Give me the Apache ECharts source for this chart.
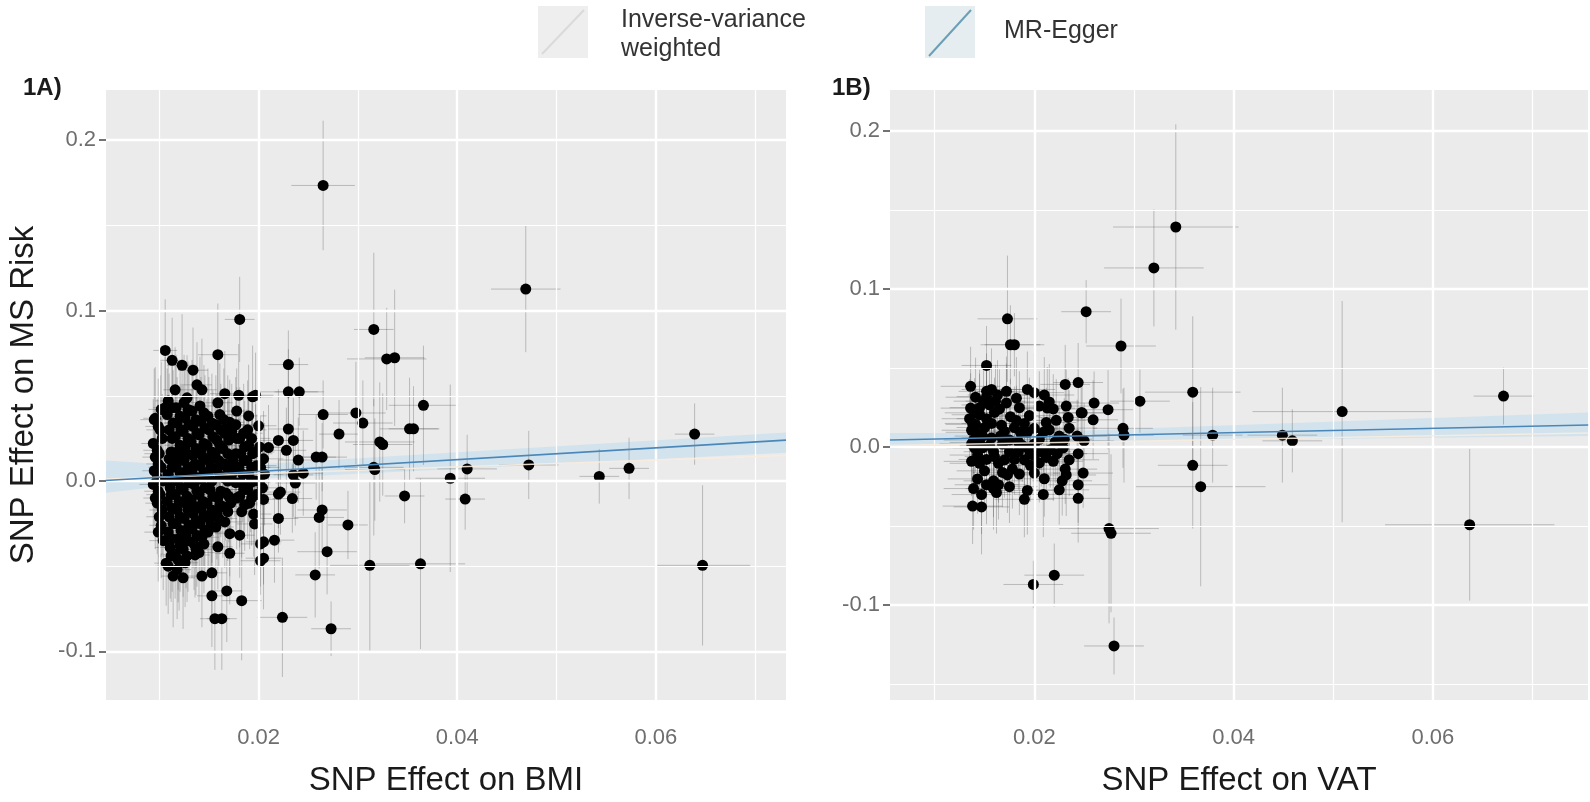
<!DOCTYPE html>
<html>
<head>
<meta charset="utf-8">
<script src="https://cdn.jsdelivr.net/npm/echarts@6/dist/echarts.min.js"></script>
<style>
html,body{margin:0;padding:0;background:#fff;}
#chart{width:1590px;height:802px;}
</style>
</head>
<body>
<div id="chart"></div>
<script>
// ---------- tick values ----------
const xMajorTicks = [0.02, 0.04, 0.06];
const xMinorTicks = [0.01, 0.03, 0.05, 0.07];
const yMajorTicks = [-0.1, 0, 0.1, 0.2];
const yMinorTicksA = [-0.05, 0.05, 0.15];
const yMinorTicksB = [-0.15, -0.05, 0.05, 0.15];

// ---------- panel 1A: SNP effect on BMI vs MS risk  [beta_x, beta_y, se_x, se_y] ----------
const snpA = [
 [0.0265,0.1734,0.0032,0.038],[0.0469,0.1126,0.0035,0.037],[0.0316,0.0889,0.0020,0.045],
 [0.0329,0.0716,0.0040,0.030],[0.0337,0.0723,0.0030,0.040],[0.0230,0.0683,0.0020,0.020],
 [0.0230,0.0523,0.0030,0.025],[0.0241,0.0523,0.0025,0.020],[0.0194,0.0494,0.0020,0.030],
 [0.0366,0.0444,0.0035,0.035],[0.0265,0.0390,0.0025,0.020],[0.0298,0.0399,0.0030,0.030],
 [0.0305,0.0340,0.0030,0.025],[0.0352,0.0306,0.0030,0.030],[0.0356,0.0306,0.0025,0.025],
 [0.0281,0.0275,0.0020,0.020],[0.0322,0.0229,0.0035,0.035],[0.0325,0.0214,0.0030,0.030],
 [0.0639,0.0275,0.0020,0.018],[0.0258,0.0140,0.0020,0.025],[0.0264,0.0140,0.0025,0.020],
 [0.0316,0.0080,0.0030,0.040],[0.0317,0.0067,0.0030,0.030],[0.0410,0.0071,0.0030,0.020],
 [0.0472,0.0094,0.0030,0.020],[0.0573,0.0074,0.0020,0.018],[0.0543,0.0027,0.0020,0.016],
 [0.0393,0.0016,0.0035,0.055],[0.0408,-0.0106,0.0020,0.018],[0.0347,-0.0088,0.0020,0.016],
 [0.0220,-0.0077,0.0020,0.020],[0.0234,-0.0103,0.0020,0.020],[0.0264,-0.0170,0.0025,0.025],
 [0.0261,-0.0214,0.0025,0.030],[0.0290,-0.0258,0.0020,0.020],[0.0220,-0.0220,0.0020,0.020],
 [0.0202,-0.0369,0.0020,0.025],[0.0216,-0.0347,0.0020,0.025],[0.0202,-0.0468,0.0020,0.020],
 [0.0269,-0.0415,0.0030,0.025],[0.0312,-0.0495,0.0040,0.050],[0.0363,-0.0486,0.0045,0.050],
 [0.0647,-0.0495,0.0048,0.047],[0.0257,-0.0551,0.0020,0.025],[0.0224,-0.0800,0.0025,0.035],
 [0.0273,-0.0867,0.0020,0.016],
 [0.0181,0.0948,0.0015,0.025],[0.0159,0.0741,0.0020,0.030],[0.0106,0.0766,0.0012,0.030],
 [0.0113,0.0708,0.0012,0.025],[0.0123,0.0679,0.0015,0.030],[0.0134,0.0650,0.0015,0.025],
 [0.0116,0.0535,0.0012,0.025],[0.0138,0.0564,0.0015,0.025],[0.0143,0.0535,0.0015,0.030],
 [0.0128,0.0488,0.0012,0.025],[0.0166,0.0512,0.0015,0.025],[0.0180,0.0503,0.0018,0.030],
 [0.0197,0.0503,0.0018,0.025],[0.0159,0.0459,0.0015,0.030],[0.0096,0.0368,0.0012,0.030],
 [0.0106,0.0430,0.0012,0.030],[0.0178,0.0410,0.0015,0.025],[0.0190,0.0382,0.0018,0.030],
 [0.0200,0.0324,0.0018,0.025],[0.0171,0.0344,0.0015,0.025],[0.0230,0.0305,0.0020,0.025],
 [0.0220,0.0238,0.0020,0.030],[0.0235,0.0238,0.0020,0.025],[0.0228,0.0180,0.0020,0.025],
 [0.0210,0.0196,0.0018,0.025],[0.0240,0.0123,0.0020,0.025],[0.0235,0.0036,0.0020,0.025],
 [0.0245,0.0046,0.0020,0.025],[0.0237,-0.0012,0.0020,0.025],[0.0222,-0.0065,0.0020,0.025],
 [0.0205,-0.0108,0.0018,0.025],[0.0195,-0.0194,0.0018,0.025],[0.0196,-0.0252,0.0018,0.030],
 [0.0171,-0.0309,0.0015,0.025],[0.0181,-0.0318,0.0015,0.025],[0.0205,-0.0357,0.0018,0.025],
 [0.0205,-0.0453,0.0018,0.030],[0.0171,-0.0424,0.0015,0.030],[0.0159,-0.0386,0.0015,0.025],
 [0.0136,-0.0434,0.0015,0.025],[0.0114,-0.0558,0.0012,0.030],[0.0124,-0.0568,0.0012,0.030],
 [0.0143,-0.0558,0.0015,0.030],[0.0153,-0.0539,0.0015,0.030],[0.0107,-0.0482,0.0012,0.025],
 [0.0119,-0.0462,0.0012,0.025],[0.0153,-0.0674,0.0015,0.030],[0.0168,-0.0645,0.0015,0.030],
 [0.0183,-0.0702,0.0020,0.035],[0.0156,-0.0808,0.0015,0.030],[0.0163,-0.0808,0.0015,0.030],
 // dense core
 [0.0095,0.036,0.0014,0.030],[0.0094,0.022,0.0012,0.026],[0.0096,0.014,0.0013,0.028],
 [0.0095,0.006,0.0012,0.032],[0.0094,-0.002,0.0014,0.027],[0.0096,-0.010,0.0012,0.030],
 [0.0102,0.042,0.0013,0.028],[0.0101,0.030,0.0014,0.032],[0.0103,0.025,0.0012,0.026],
 [0.0100,0.016,0.0015,0.030],[0.0102,0.008,0.0013,0.034],[0.0104,0.000,0.0012,0.028],
 [0.0101,-0.008,0.0014,0.030],[0.0103,-0.017,0.0013,0.026],[0.0102,-0.026,0.0012,0.031],
 [0.0104,-0.035,0.0014,0.029],
 [0.0109,0.047,0.0013,0.030],[0.0108,0.039,0.0015,0.027],[0.0110,0.030,0.0012,0.033],
 [0.0110,0.013,0.0014,0.029],[0.0109,0.004,0.0013,0.026],[0.0111,-0.004,0.0015,0.031],
 [0.0108,-0.012,0.0012,0.028],[0.0110,-0.021,0.0014,0.034],[0.0109,-0.030,0.0013,0.027],
 [0.0111,-0.039,0.0015,0.030],[0.0109,-0.050,0.0013,0.028],
 [0.0117,0.043,0.0014,0.031],[0.0118,0.034,0.0013,0.027],[0.0116,0.026,0.0015,0.030],
 [0.0118,0.017,0.0012,0.026],[0.0117,0.009,0.0014,0.033],[0.0119,0.000,0.0016,0.029],
 [0.0116,-0.008,0.0013,0.027],[0.0118,-0.017,0.0015,0.031],[0.0117,-0.025,0.0014,0.028],
 [0.0119,-0.034,0.0013,0.030],[0.0116,-0.043,0.0015,0.026],[0.0118,-0.052,0.0014,0.029],
 [0.0125,0.046,0.0015,0.028],[0.0126,0.037,0.0014,0.032],[0.0124,0.029,0.0016,0.027],
 [0.0126,0.020,0.0013,0.030],[0.0125,0.012,0.0015,0.026],[0.0127,0.003,0.0014,0.031],
 [0.0124,-0.005,0.0016,0.028],[0.0126,-0.013,0.0013,0.030],[0.0125,-0.022,0.0015,0.027],
 [0.0127,-0.031,0.0014,0.032],[0.0124,-0.040,0.0016,0.028],[0.0126,-0.048,0.0013,0.026],
 [0.0133,0.041,0.0015,0.030],[0.0134,0.032,0.0016,0.027],[0.0132,0.023,0.0014,0.031],
 [0.0134,0.015,0.0015,0.028],[0.0133,0.006,0.0017,0.026],[0.0135,-0.002,0.0014,0.030],
 [0.0132,-0.011,0.0016,0.027],[0.0134,-0.019,0.0015,0.032],[0.0133,-0.028,0.0014,0.029],
 [0.0135,-0.037,0.0016,0.027],
 [0.0141,0.044,0.0016,0.029],[0.0142,0.035,0.0015,0.026],[0.0140,0.027,0.0017,0.031],
 [0.0142,0.018,0.0014,0.028],[0.0141,0.009,0.0016,0.030],[0.0143,0.001,0.0015,0.027],
 [0.0140,-0.008,0.0017,0.033],[0.0142,-0.016,0.0016,0.028],[0.0141,-0.025,0.0015,0.030],
 [0.0143,-0.033,0.0017,0.026],[0.0140,-0.042,0.0016,0.029],
 [0.0149,0.038,0.0016,0.028],[0.0150,0.030,0.0017,0.031],[0.0148,0.021,0.0015,0.027],
 [0.0150,0.012,0.0016,0.030],[0.0149,0.004,0.0018,0.026],[0.0151,-0.005,0.0016,0.031],
 [0.0148,-0.013,0.0017,0.028],[0.0150,-0.022,0.0015,0.030],[0.0149,-0.030,0.0016,0.027],
 [0.0157,0.033,0.0017,0.029],[0.0158,0.024,0.0016,0.027],[0.0156,0.016,0.0018,0.031],
 [0.0158,0.007,0.0016,0.028],[0.0159,-0.010,0.0017,0.030],[0.0158,-0.019,0.0016,0.027],
 [0.0157,-0.027,0.0018,0.029],
 [0.0165,0.036,0.0017,0.030],[0.0166,0.028,0.0018,0.027],[0.0164,0.019,0.0016,0.031],
 [0.0166,0.010,0.0018,0.026],[0.0165,0.002,0.0017,0.029],[0.0167,-0.007,0.0019,0.028],
 [0.0164,-0.015,0.0017,0.030],[0.0166,-0.024,0.0018,0.027],
 [0.0173,0.029,0.0018,0.028],[0.0174,0.012,0.0017,0.030],[0.0173,0.004,0.0019,0.027],
 [0.0172,-0.013,0.0018,0.029],
 [0.0181,0.025,0.0018,0.030],[0.0182,0.016,0.0019,0.027],[0.0180,0.008,0.0018,0.029],
 [0.0182,-0.001,0.0020,0.028],[0.0181,-0.009,0.0018,0.030],[0.0183,-0.018,0.0019,0.027],
 [0.0189,0.030,0.0019,0.029],[0.0190,0.021,0.0018,0.027],[0.0188,0.012,0.0020,0.030],
 [0.0190,0.004,0.0019,0.028],[0.0189,-0.005,0.0018,0.029],[0.0191,-0.013,0.0020,0.027],
 [0.0197,0.017,0.0019,0.028],[0.0198,0.009,0.0020,0.030],[0.0196,0.000,0.0019,0.027],
 [0.0198,-0.008,0.0020,0.029],
 [0.0205,0.013,0.0020,0.028],[0.0206,0.004,0.0019,0.030],[0.0204,-0.004,0.0020,0.027],
 // dense core, in-between rows
 [0.0099,0.032,0.0013,0.028],[0.0098,0.018,0.0014,0.030],[0.0099,0.010,0.0012,0.027],
 [0.0098,0.002,0.0013,0.031],[0.0099,-0.006,0.0014,0.028],[0.0098,-0.013,0.0012,0.030],
 [0.0100,-0.021,0.0013,0.027],[0.0099,-0.030,0.0014,0.029],
 [0.0113,0.043,0.0014,0.028],[0.0114,0.034,0.0013,0.031],[0.0113,0.025,0.0015,0.027],
 [0.0112,0.017,0.0014,0.030],[0.0113,0.008,0.0013,0.028],[0.0114,0.000,0.0015,0.032],
 [0.0112,-0.008,0.0014,0.027],[0.0113,-0.016,0.0013,0.030],[0.0114,-0.025,0.0015,0.028],
 [0.0113,-0.034,0.0014,0.031],[0.0112,-0.044,0.0013,0.027],
 [0.0121,0.038,0.0015,0.029],[0.0122,0.030,0.0014,0.027],[0.0121,0.021,0.0016,0.031],
 [0.0120,0.013,0.0015,0.028],[0.0121,0.005,0.0014,0.030],[0.0122,-0.004,0.0016,0.027],
 [0.0120,-0.012,0.0015,0.031],[0.0121,-0.021,0.0014,0.028],[0.0122,-0.029,0.0016,0.030],
 [0.0121,-0.038,0.0015,0.027],[0.0120,-0.047,0.0014,0.029],
 [0.0129,0.042,0.0015,0.028],[0.0130,0.033,0.0016,0.031],[0.0129,0.025,0.0014,0.027],
 [0.0128,0.016,0.0015,0.030],[0.0129,0.008,0.0016,0.028],[0.0130,-0.001,0.0015,0.031],
 [0.0128,-0.009,0.0014,0.027],[0.0129,-0.017,0.0016,0.029],[0.0130,-0.026,0.0015,0.028],
 [0.0129,-0.035,0.0014,0.030],[0.0128,-0.044,0.0016,0.027],
 [0.0137,0.036,0.0016,0.030],[0.0138,0.028,0.0015,0.027],[0.0137,0.019,0.0017,0.031],
 [0.0136,0.010,0.0016,0.028],[0.0137,0.002,0.0015,0.030],[0.0138,-0.006,0.0017,0.027],
 [0.0136,-0.015,0.0016,0.031],[0.0137,-0.023,0.0015,0.028],[0.0138,-0.032,0.0017,0.030],
 [0.0137,-0.040,0.0016,0.027],
 [0.0145,0.040,0.0016,0.028],[0.0146,0.031,0.0017,0.031],[0.0145,0.022,0.0015,0.027],
 [0.0144,0.014,0.0016,0.030],[0.0145,0.005,0.0017,0.028],[0.0146,-0.004,0.0016,0.031],
 [0.0144,-0.012,0.0015,0.027],[0.0145,-0.020,0.0017,0.030],[0.0146,-0.029,0.0016,0.028],
 [0.0145,-0.037,0.0015,0.029],
 [0.0153,0.034,0.0017,0.029],[0.0154,0.026,0.0016,0.027],[0.0153,0.017,0.0018,0.031],
 [0.0152,0.008,0.0017,0.028],[0.0153,0.000,0.0016,0.030],[0.0154,-0.009,0.0018,0.027],
 [0.0153,-0.017,0.0017,0.031],[0.0152,-0.026,0.0016,0.028],
 [0.0161,0.039,0.0017,0.030],[0.0162,0.030,0.0018,0.027],[0.0161,0.021,0.0016,0.031],
 [0.0160,0.012,0.0017,0.028],[0.0161,0.003,0.0018,0.030],[0.0162,-0.006,0.0017,0.027],
 [0.0161,-0.014,0.0016,0.029],[0.0160,-0.022,0.0018,0.028],
 [0.0169,0.033,0.0018,0.029],[0.0170,0.024,0.0017,0.027],[0.0169,0.016,0.0019,0.031],
 [0.0168,0.008,0.0018,0.028],[0.0169,0.000,0.0017,0.030],[0.0170,-0.009,0.0019,0.027],
 [0.0169,-0.018,0.0018,0.029],
 [0.0177,0.033,0.0018,0.028],[0.0178,0.025,0.0019,0.030],[0.0177,0.016,0.0018,0.027],
 [0.0176,0.008,0.0017,0.029],[0.0177,-0.001,0.0019,0.028],[0.0178,-0.010,0.0018,0.030],
 [0.0185,0.028,0.0019,0.029],[0.0186,0.020,0.0018,0.027],[0.0185,0.012,0.0020,0.030],
 [0.0184,0.004,0.0019,0.028],[0.0185,-0.005,0.0018,0.029],[0.0186,-0.014,0.0020,0.027],
 [0.0193,0.025,0.0019,0.028],[0.0194,0.016,0.0020,0.030],[0.0193,0.008,0.0019,0.027],
 [0.0192,-0.001,0.0020,0.029],[0.0193,-0.010,0.0019,0.028],
 [0.0201,0.020,0.0020,0.028],[0.0202,0.008,0.0019,0.030],[0.0201,0.000,0.0020,0.027]
];

// ---------- panel 1B: SNP effect on VAT vs MS risk  [beta_x, beta_y, se_x, se_y] ----------
const snpB = [
 [0.0342,0.1393,0.0063,0.065],[0.0320,0.1134,0.0050,0.037],[0.0173,0.0812,0.0030,0.040],
 [0.0176,0.0648,0.0030,0.025],[0.0180,0.0648,0.0030,0.020],[0.0252,0.0857,0.0025,0.020],
 [0.0287,0.0640,0.0035,0.030],[0.0152,0.0517,0.0025,0.025],[0.0136,0.0385,0.0030,0.025],
 [0.0244,0.0409,0.0025,0.025],[0.0231,0.0397,0.0025,0.025],[0.0359,0.0348,0.0048,0.048],
 [0.0306,0.0291,0.0030,0.020],[0.0671,0.0323,0.0030,0.018],[0.0509,0.0225,0.0090,0.070],
 [0.0274,0.0237,0.0025,0.025],[0.0260,0.0279,0.0025,0.020],[0.0248,0.0217,0.0025,0.020],
 [0.0259,0.0173,0.0025,0.025],[0.0289,0.0119,0.0030,0.025],[0.0290,0.0076,0.0030,0.030],
 [0.0379,0.0076,0.0030,0.030],[0.0449,0.0076,0.0035,0.030],[0.0459,0.0040,0.0030,0.020],
 [0.0359,-0.0115,0.0035,0.040],[0.0367,-0.0250,0.0065,0.063],[0.0275,-0.0515,0.0050,0.060],
 [0.0277,-0.0545,0.0040,0.050],[0.0637,-0.0491,0.0085,0.048],[0.0220,-0.0810,0.0030,0.020],
 [0.0199,-0.0869,0.0030,0.015],[0.0280,-0.1258,0.0030,0.018],
 [0.0136,0.0247,0.0030,0.022],[0.0135,0.0180,0.0028,0.025],[0.0137,0.0107,0.0030,0.020],
 [0.0137,0.0021,0.0032,0.024],[0.0137,-0.0090,0.0028,0.022],[0.0139,-0.0262,0.0030,0.026],
 [0.0138,-0.0373,0.0030,0.024],[0.0147,-0.0378,0.0028,0.030],[0.0143,-0.0201,0.0030,0.022],
 [0.0152,-0.0238,0.0032,0.025],[0.0159,-0.0213,0.0030,0.023],[0.0162,-0.0287,0.0028,0.026],
 [0.0164,-0.0238,0.0030,0.022],[0.0178,-0.0139,0.0030,0.025],[0.0193,-0.0274,0.0032,0.028],
 [0.0200,-0.0164,0.0030,0.024],[0.0209,-0.0299,0.0030,0.027],[0.0196,-0.0115,0.0028,0.023],
 [0.0219,-0.0090,0.0030,0.025],[0.0231,-0.0139,0.0032,0.022],[0.0232,-0.0176,0.0030,0.026],
 [0.0244,-0.0238,0.0030,0.024],[0.0244,-0.0324,0.0032,0.028],[0.0249,-0.0164,0.0030,0.022],
 [0.0234,0.0188,0.0030,0.025],[0.0247,0.0217,0.0030,0.022],[0.0215,0.0286,0.0030,0.024],
 [0.0213,0.0247,0.0028,0.026],[0.0219,0.0242,0.0030,0.022],[0.0200,0.0345,0.0030,0.025],
 [0.0193,0.0365,0.0028,0.024],[0.0172,0.0353,0.0030,0.022],[0.0157,0.0365,0.0030,0.026],
 [0.0152,0.0353,0.0028,0.024],[0.0141,0.0316,0.0030,0.025],[0.0149,0.0291,0.0030,0.022],
 [0.0155,0.0267,0.0028,0.024],[0.0161,0.0291,0.0030,0.023],[0.0165,0.0242,0.0030,0.025],
 [0.0140,0.0217,0.0030,0.022],[0.0145,0.0205,0.0028,0.026],[0.0152,0.0180,0.0030,0.024],
 [0.0141,0.0144,0.0030,0.022],[0.0150,0.0124,0.0028,0.025],[0.0167,0.0139,0.0030,0.023],
 [0.0176,0.0193,0.0030,0.024],[0.0182,0.0168,0.0028,0.022],[0.0180,0.0124,0.0030,0.026],
 [0.0186,0.0094,0.0030,0.024],[0.0212,0.0156,0.0030,0.022],[0.0209,0.0094,0.0028,0.025],
 [0.0200,0.0119,0.0030,0.023],[0.0193,0.0094,0.0030,0.024],[0.0225,0.0070,0.0030,0.022],
 [0.0221,0.0033,0.0028,0.026],[0.0216,-0.0016,0.0030,0.024],[0.0207,-0.0029,0.0030,0.022],
 [0.0200,-0.0053,0.0028,0.025],[0.0193,-0.0004,0.0030,0.023],[0.0184,0.0033,0.0030,0.024],
 [0.0175,0.0045,0.0028,0.022],[0.0166,0.0070,0.0030,0.026],[0.0157,0.0058,0.0030,0.024],
 [0.0148,0.0070,0.0028,0.022],[0.0141,0.0094,0.0030,0.025],[0.0139,0.0045,0.0030,0.023],
 [0.0140,-0.0004,0.0028,0.024],[0.0148,-0.0004,0.0030,0.022],[0.0159,-0.0029,0.0030,0.026],
 [0.0152,-0.0078,0.0028,0.024],[0.0145,-0.0102,0.0030,0.022],[0.0164,-0.0102,0.0030,0.025],
 [0.0175,-0.0029,0.0028,0.023],[0.0184,-0.0029,0.0030,0.024],[0.0180,-0.0078,0.0030,0.022],
 [0.0196,-0.0041,0.0028,0.026],[0.0212,-0.0065,0.0030,0.024],[0.0223,-0.0041,0.0030,0.022],
 [0.0229,-0.0004,0.0028,0.025],[0.0243,0.0070,0.0030,0.023],[0.0244,-0.0041,0.0030,0.024],
 [0.0228,-0.0213,0.0030,0.022],[0.0159,-0.0262,0.0028,0.026],[0.0173,-0.0176,0.0030,0.024],
 [0.0145,0.0250,0.0030,0.024],[0.0160,0.0220,0.0028,0.022],[0.0172,0.0280,0.0030,0.025],
 [0.0185,0.0250,0.0030,0.023],[0.0195,0.0200,0.0028,0.024],[0.0205,0.0260,0.0030,0.022],
 [0.0222,0.0170,0.0030,0.026],[0.0235,0.0120,0.0028,0.024],[0.0157,0.0150,0.0030,0.022],
 [0.0170,0.0100,0.0030,0.025],[0.0190,0.0150,0.0028,0.023],[0.0205,0.0050,0.0030,0.024],
 [0.0215,0.0110,0.0030,0.022],[0.0230,0.0050,0.0028,0.026],[0.0145,0.0030,0.0030,0.024],
 [0.0155,0.0010,0.0030,0.022],[0.0168,0.0020,0.0028,0.025],[0.0188,0.0010,0.0030,0.023],
 [0.0200,0.0020,0.0030,0.024],[0.0143,-0.0050,0.0028,0.022],[0.0160,-0.0060,0.0030,0.026],
 [0.0170,-0.0080,0.0030,0.024],[0.0190,-0.0080,0.0028,0.022],[0.0205,-0.0100,0.0030,0.025],
 [0.0235,-0.0080,0.0030,0.023],[0.0150,-0.0150,0.0028,0.024],[0.0168,-0.0160,0.0030,0.022],
 [0.0185,-0.0170,0.0030,0.026],[0.0210,-0.0200,0.0028,0.024],[0.0225,-0.0270,0.0030,0.022],
 [0.0147,-0.0300,0.0030,0.025],[0.0175,-0.0250,0.0028,0.023],[0.0190,-0.0330,0.0030,0.024],
 [0.0152,0.0320,0.0030,0.022],[0.0182,0.0310,0.0028,0.026],[0.0210,0.0330,0.0030,0.024],
 [0.0163,0.0330,0.0030,0.022],[0.0138,0.0150,0.0028,0.025],[0.0232,0.0260,0.0030,0.023],
 [0.0250,0.0040,0.0030,0.024]
];

// ---------- fitted lines: [beta_x, beta_y] and confidence bands [beta_x, low, high] ----------
const eggerLineA = [[0.0046, 0.0003], [0.0731, 0.0240]];
const eggerBandA = [[0.0046, -0.007, 0.012], [0.015, 0.0, 0.008], [0.0731, 0.0165, 0.0285]];
const ivwLineA   = [[0.0046, 0.0012], [0.0731, 0.0150]];
const eggerLineB = [[0.0055, 0.0045], [0.0756, 0.0140]];
const eggerBandB = [[0.0055, -0.001, 0.009], [0.018, 0.003, 0.009], [0.0756, 0.007, 0.022]];
const ivwLineB   = [[0.0055, 0.0010], [0.0756, 0.0090]];

const legendLabels = ['Inverse-variance\nweighted', 'MR-Egger'];

// ---------- style ----------
const FONT = "'Liberation Sans', Arial, Helvetica, sans-serif";
const EGGER_COLOR = '#4a86b8';
const BAND_COLOR = 'rgba(190,220,238,0.55)';
const IVW_COLOR = 'rgba(250,236,222,0.9)';
const ERR_COLOR = 'rgba(70,70,70,0.30)';

const chart = echarts.init(document.getElementById('chart'), null, {renderer: 'canvas'});

function gridLineSeries(xi, yMinor) {
  const data = [];
  xMinorTicks.forEach(v => data.push({xAxis: v, lineStyle: {color: '#fff', width: 1.2, type: 'solid'}}));
  yMinor.forEach(v => data.push({yAxis: v, lineStyle: {color: '#fff', width: 1.2, type: 'solid'}}));
  xMajorTicks.forEach(v => data.push({xAxis: v, lineStyle: {color: '#fff', width: 2.4, type: 'solid'}}));
  yMajorTicks.forEach(v => data.push({yAxis: v, lineStyle: {color: '#fff', width: 2.4, type: 'solid'}}));
  return {
    type: 'line', xAxisIndex: xi, yAxisIndex: xi, data: [], z: 1, silent: true,
    markLine: {silent: true, symbol: ['none', 'none'], label: {show: false}, animation: false, data: data}
  };
}

function bandSeries(xi, band) {
  return {
    type: 'custom', xAxisIndex: xi, yAxisIndex: xi, z: 2, silent: true, clip: true,
    data: band, encode: {x: 0, y: 1},
    renderItem: function (params, api) {
      if (params.dataIndex !== 0) return null;
      const top = band.map(d => api.coord([d[0], d[2]]));
      const bot = band.slice().reverse().map(d => api.coord([d[0], d[1]]));
      return {type: 'polygon', shape: {points: top.concat(bot)}, style: {fill: BAND_COLOR}};
    }
  };
}

function errSeries(xi, data) {
  return {
    type: 'custom', xAxisIndex: xi, yAxisIndex: xi, z: 3, silent: true, clip: true,
    data: data, encode: {x: 0, y: 1},
    renderItem: function (params, api) {
      const x = api.value(0), y = api.value(1), sx = api.value(2), sy = api.value(3);
      const l = api.coord([x - sx, y]), r = api.coord([x + sx, y]);
      const t = api.coord([x, y + sy]), b = api.coord([x, y - sy]);
      return {type: 'group', children: [
        {type: 'line', shape: {x1: l[0], y1: l[1], x2: r[0], y2: r[1]}, style: {stroke: ERR_COLOR, lineWidth: 1}},
        {type: 'line', shape: {x1: t[0], y1: t[1], x2: b[0], y2: b[1]}, style: {stroke: ERR_COLOR, lineWidth: 1}}
      ]};
    }
  };
}

function pointSeries(xi, data) {
  return {
    type: 'scatter', xAxisIndex: xi, yAxisIndex: xi, z: 4, silent: true, large: false,
    data: data.map(d => [d[0], d[1]]), symbol: 'circle', symbolSize: 11,
    itemStyle: {color: '#000', opacity: 1}
  };
}

function lineSeries(xi, name, data, color, width, z) {
  return {
    name: name, type: 'line', xAxisIndex: xi, yAxisIndex: xi, z: z, silent: true,
    data: data, showSymbol: false, symbol: 'none', lineStyle: {color: color, width: width}
  };
}

function xAxis(gi, min, max, title) {
  return {
    type: 'value', gridIndex: gi, min: min, max: max,
    name: title, nameLocation: 'middle', nameGap: 64,
    nameTextStyle: {fontFamily: FONT, fontSize: 33, color: '#1a1a1a'},
    axisLine: {show: false},
    axisTick: {show: true, length: 9, customValues: xMajorTicks, lineStyle: {color: '#444', width: 1.5}},
    axisLabel: {customValues: xMajorTicks, formatter: v => v.toFixed(2), fontFamily: FONT, fontSize: 22, color: '#6e6e6e', margin: 27},
    splitLine: {show: false}
  };
}

function yAxis(gi, min, max, title) {
  return {
    type: 'value', gridIndex: gi, min: min, max: max,
    name: title, nameLocation: 'middle', nameGap: 66,
    nameTextStyle: {fontFamily: FONT, fontSize: 33, color: '#1a1a1a'},
    axisLine: {show: false},
    axisTick: {show: true, length: 7, customValues: yMajorTicks, lineStyle: {color: '#444', width: 1.5}},
    axisLabel: {customValues: yMajorTicks, formatter: v => v.toFixed(1), fontFamily: FONT, fontSize: 22, color: '#6e6e6e', margin: 10},
    splitLine: {show: false}
  };
}

const option = {
  animation: false,
  backgroundColor: '#ffffff',
  grid: [
    {left: 106, top: 90, width: 680, height: 626, show: true, backgroundColor: '#EBEBEB', borderWidth: 0},
    {left: 890, top: 90, width: 698, height: 626, show: true, backgroundColor: '#EBEBEB', borderWidth: 0}
  ],
  xAxis: [
    xAxis(0, 0.00464, 0.0731, 'SNP Effect on BMI'),
    xAxis(1, 0.00551, 0.07558, 'SNP Effect on VAT')
  ],
  yAxis: [
    yAxis(0, -0.1285, 0.2294, 'SNP Effect on MS Risk'),
    yAxis(1, -0.160, 0.226, '')
  ],
  series: [
    gridLineSeries(0, yMinorTicksA),
    gridLineSeries(1, yMinorTicksB),
    bandSeries(0, eggerBandA),
    bandSeries(1, eggerBandB),
    errSeries(0, snpA),
    errSeries(1, snpB),
    pointSeries(0, snpA),
    pointSeries(1, snpB),
    lineSeries(0, legendLabels[0], ivwLineA, IVW_COLOR, 1.5, 5),
    lineSeries(1, legendLabels[0], ivwLineB, IVW_COLOR, 1.5, 5),
    lineSeries(0, legendLabels[1], eggerLineA, EGGER_COLOR, 1.6, 6),
    lineSeries(1, legendLabels[1], eggerLineB, EGGER_COLOR, 1.6, 6)
  ],
  graphic: [
    {type: 'text', left: 23, top: 76, style: {text: '1A)', font: "bold 24px " + FONT, fill: '#1a1a1a'}},
    {type: 'text', left: 832, top: 76, style: {text: '1B)', font: "bold 24px " + FONT, fill: '#1a1a1a'}},
    // legend keys
    {type: 'rect', shape: {x: 538, y: 6, width: 50, height: 52}, style: {fill: '#EEEEEE'}},
    {type: 'line', shape: {x1: 542, y1: 54, x2: 584, y2: 10}, style: {stroke: '#DADADA', lineWidth: 2}},
    {type: 'text', left: 621, top: 6, style: {text: legendLabels[0], font: "25px " + FONT, fill: '#333', lineHeight: 29}},
    {type: 'rect', shape: {x: 925, y: 6, width: 50, height: 52}, style: {fill: '#E6EDF1'}},
    {type: 'line', shape: {x1: 929, y1: 56, x2: 971, y2: 10}, style: {stroke: '#6A9FB5', lineWidth: 2}},
    {type: 'text', left: 1004, top: 19, style: {text: legendLabels[1], font: "25px " + FONT, fill: '#333'}}
  ]
};

chart.setOption(option);
</script>
</body>
</html>
